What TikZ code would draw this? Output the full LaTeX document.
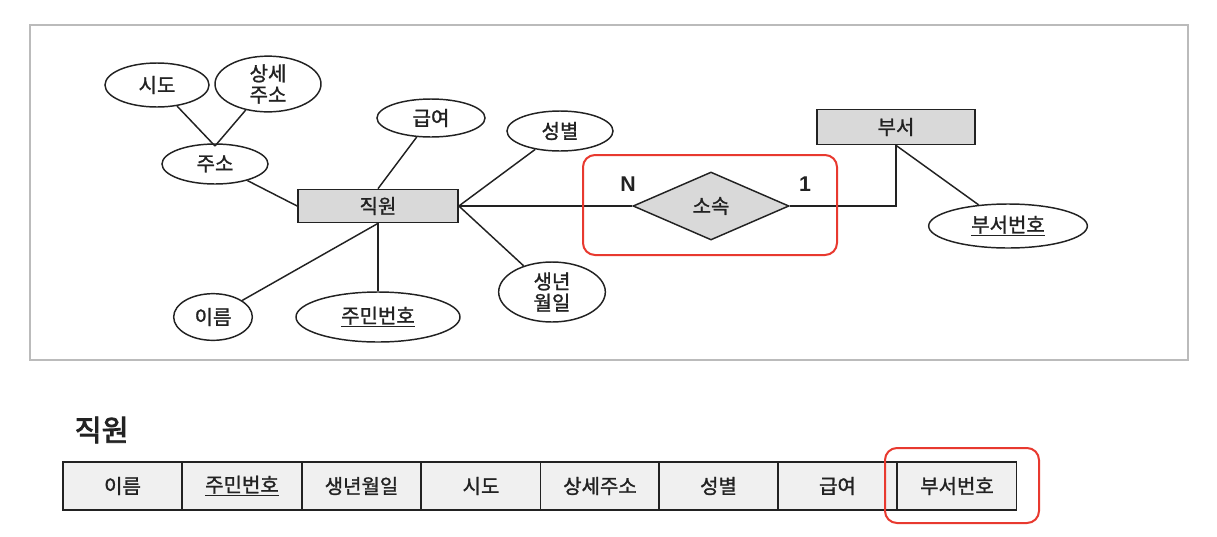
\documentclass[tikz,border=0pt]{standalone}
\usepackage{fontspec}
\setmainfont{Noto Sans CJK KR}[FakeBold=1.3]
\newfontfamily\lat{Liberation Sans}
\newfontfamily\krbold{Noto Sans CJK KR}[FakeBold=3]
\usetikzlibrary{shapes.geometric}
\definecolor{entgray}{HTML}{D9D9D9}
\definecolor{cellgray}{HTML}{F0F0F0}
\definecolor{framegray}{HTML}{BBBBBB}
\definecolor{hlred}{HTML}{E8392F}
\definecolor{ink}{HTML}{222222}
\begin{document}
\begin{tikzpicture}[x=0.75pt,y=-0.75pt,
  every node/.style={text=ink},
  attr/.style={ellipse,draw=ink,line width=1.1pt,inner sep=0pt,font=\fontsize{15}{16}\selectfont,align=center},
  entity/.style={rectangle,draw=ink,line width=1.3pt,fill=entgray,inner sep=0pt,font=\fontsize{15}{16}\selectfont},
  rel/.style={diamond,draw=ink,line width=1.1pt,fill=entgray,inner sep=0pt,aspect=2.3,font=\fontsize{15}{16}\selectfont},
  link/.style={draw=ink,line width=1.1pt},
  card/.style={font=\lat\bfseries\fontsize{16}{17}\selectfont},
  cell/.style={rectangle,draw=ink,line width=1.1pt,fill=cellgray,minimum width=89.25pt,minimum height=36pt,inner sep=0pt,font=\fontsize{15}{16}\selectfont},
  hl/.style={draw=hlred,line width=1.5pt,rounded corners=9pt}]
\useasboundingbox (0,0) rectangle (1217,536);
\fill[white] (0,0) rectangle (1217,536);
\draw[framegray,line width=0.8pt] (30,25) rectangle (1188,360);
% ER diagram
\node[entity,minimum width=120pt,minimum height=24.75pt] (jw) at (378,206) {직원};
\node[entity,minimum width=118.5pt,minimum height=26.25pt] (dept) at (896,127) {부서};
\node[rel,minimum width=117pt,minimum height=51pt] (rel) at (711,206) {소속};
\node[attr,minimum width=78pt,minimum height=33pt] (sido) at (157,85) {시도};
\node[attr,minimum width=79.5pt,minimum height=35pt] (sangse) at (268,84) {상세\\주소};
\node[attr,minimum width=79.5pt,minimum height=30pt] (juso) at (215,164) {주소};
\node[attr,minimum width=81pt,minimum height=28.5pt] (geup) at (431,118) {급여};
\node[attr,minimum width=79.5pt,minimum height=30pt] (seong) at (560,131) {성별};
\node[attr,minimum width=80pt,minimum height=45pt] (saeng) at (552,292) {생년\\월일};
\node[attr,minimum width=123pt,minimum height=37.5pt] (jumin) at (378,317) {\underline{주민번호}};
\node[attr,minimum width=59pt,minimum height=35pt] (ireum) at (213,317) {이름};
\node[attr,minimum width=119pt,minimum height=33pt] (bno) at (1008,226) {\underline{부서번호}};
\node[card] (n) at (628,184) {N};
\node[card] (one) at (805,184) {1};
\coordinate (jz) at (215,146);
\draw[link] (sido) -- (jz);
\draw[link] (sangse) -- (jz);
\draw[link] (juso) -- (jw.west);
\draw[link] (jw.north) -- (geup);
\draw[link] (jw.east) -- (seong);
\draw[link] (jw.east) -- (saeng);
\draw[link] (jw.south) -- (jumin);
\draw[link] (jw.south) -- (ireum);
\draw[link] (jw.east) -- (rel.west);
\draw[link] (rel.east) -| (dept.south);
\draw[link] (dept.south) -- (bno);
\draw[hl] (583,155) rectangle (837,255);
% Table
\node[font=\krbold\fontsize{22}{24}\selectfont,anchor=west] (title) at (70,430) {직원};
\node[cell] (c1) at (122.5,486) {이름};
\node[cell] (c2) at (242,486) {\underline{주민번호}};
\node[cell] (c3) at (361.5,486) {생년월일};
\node[cell] (c4) at (481,486) {시도};
\node[cell] (c5) at (600,486) {상세주소};
\node[cell] (c6) at (718.5,486) {성별};
\node[cell] (c7) at (837.5,486) {급여};
\node[cell] (c8) at (957,486) {부서번호};
\draw[hl] (885,448) rectangle (1039,523);
\end{tikzpicture}
\end{document}
